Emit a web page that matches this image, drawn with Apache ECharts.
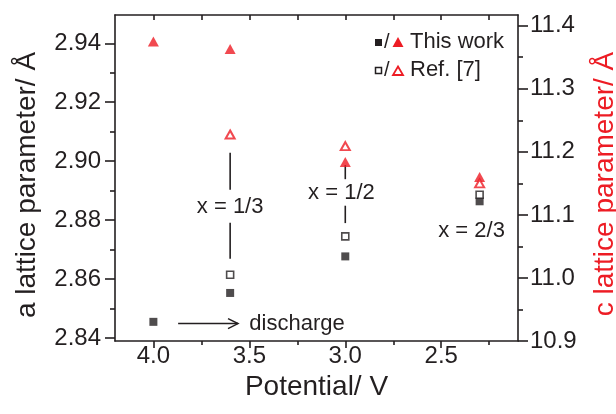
<!DOCTYPE html>
<html>
<head>
<meta charset="utf-8">
<script src="https://cdn.jsdelivr.net/npm/echarts@6/dist/echarts.min.js"></script>
<style>html,body{margin:0;padding:0;background:#fff}#c{width:616px;height:414px}</style>
</head>
<body>
<div id="c"></div>
<script>
// ---- data ----
const potentials = [4.0, 3.6, 3.0, 2.3];
const aThisWork = [2.8455, 2.8553, 2.8677, 2.8864];
const aRef = [null, 2.8615, 2.8745, 2.8886];
const cThisWork = [11.375, 11.363, 11.184, 11.160];
const cRef = [null, 11.2275, 11.209, 11.150];

const xMajorTicks = [2.5, 3.0, 3.5, 4.0];
const xMinorTicks = [2.25, 2.75, 3.25, 3.75];
const aMajorTicks = [2.84, 2.86, 2.88, 2.90, 2.92, 2.94];
const aMinorTicks = [2.85, 2.87, 2.89, 2.91, 2.93];
const cMajorTicks = [10.9, 11.0, 11.1, 11.2, 11.3, 11.4];
const cMinorTicks = [10.95, 11.05, 11.15, 11.25, 11.35];

// annotations (data coordinates)
const noteTexts = ['x = 1/3', 'x = 1/2', 'x = 2/3'];
const noteX = [3.6, 3.02, 2.342];
const noteA = [2.8846, 2.8892, 2.8765];
const segX = [3.6, 3.6, 3.0, 3.0];
const segTop = [2.9029, 2.8791, 2.8987, 2.8849];
const segBottom = [2.8903, 2.8669, 2.8939, 2.8790];
const arrowFromX = 3.871, arrowToX = 3.559, arrowA = 2.8449;
const dischargeX = 3.50;

const BLACK = '#231f20', RED = '#ed1c24';
const FONT = '"Liberation Sans", Arial, sans-serif';

const pairs = (xs, ys) => xs.map((x, i) => [x, ys[i]]).filter(p => p[1] != null);

const chart = echarts.init(document.getElementById('c'), null, {renderer: 'canvas'});

const xBase = {type: 'value', min: 2.1, max: 4.2, inverse: true, splitLine: {show: false}};
const lineStyle = {color: BLACK, width: 1.6};

const option = {
  animation: false,
  backgroundColor: '#fff',
  grid: {left: 115, right: 98, top: 15, bottom: 73, containLabel: false, outerBoundsMode: 'none'},
  xAxis: [
    Object.assign({}, xBase, {
      position: 'bottom', name: 'Potential/ V', nameLocation: 'middle', nameGap: 17,
      nameTextStyle: {fontFamily: FONT, fontSize: 28, color: BLACK},
      axisLine: {lineStyle: lineStyle},
      axisTick: {show: true, length: 7, lineStyle: {color: BLACK, width: 1.6}, customValues: xMajorTicks},
      axisLabel: {show: true, fontFamily: FONT, fontSize: 24, color: BLACK, margin: 3,
        customValues: xMajorTicks, formatter: v => v.toFixed(1)}
    }),
    Object.assign({}, xBase, {
      position: 'bottom', axisLine: {show: false},
      axisTick: {show: true, length: 4, lineStyle: {color: BLACK, width: 1.6}, customValues: xMinorTicks},
      axisLabel: {show: false}
    }),
    Object.assign({}, xBase, {
      position: 'top', axisLine: {lineStyle: lineStyle},
      axisTick: {show: true, inside: true, length: 5, lineStyle: {color: BLACK, width: 1.6},
        customValues: xMajorTicks.concat(xMinorTicks)},
      axisLabel: {show: false}
    })
  ],
  yAxis: [
    {
      type: 'value', position: 'left', min: 2.839, max: 2.9496,
      name: 'a lattice parameter/ Å', nameLocation: 'middle', nameGap: 74,
      nameTextStyle: {fontFamily: FONT, fontSize: 28, color: BLACK, padding: [0, 14, 0, 0]},
      splitLine: {show: false},
      axisLine: {show: true, lineStyle: lineStyle},
      axisTick: {show: true, length: 10, lineStyle: {color: BLACK, width: 1.6}, customValues: aMajorTicks},
      axisLabel: {show: true, fontFamily: FONT, fontSize: 24, color: BLACK, margin: 14,
        customValues: aMajorTicks, formatter: v => v.toFixed(2)}
    },
    {
      type: 'value', position: 'right', min: 10.9, max: 11.417,
      name: 'c lattice parameter/ Å', nameLocation: 'middle', nameGap: 73, nameRotate: 90,
      nameTextStyle: {fontFamily: FONT, fontSize: 28, color: RED, padding: [0, 12, 0, 0]},
      splitLine: {show: false},
      axisLine: {show: true, lineStyle: lineStyle},
      axisTick: {show: true, length: 10, lineStyle: {color: BLACK, width: 1.6}, customValues: cMajorTicks},
      axisLabel: {show: true, fontFamily: FONT, fontSize: 24, color: BLACK, margin: 12,
        customValues: cMajorTicks, formatter: v => v.toFixed(1)}
    },
    {
      type: 'value', position: 'left', min: 2.839, max: 2.9496, splitLine: {show: false},
      axisLine: {show: false},
      axisTick: {show: true, length: 5, lineStyle: {color: BLACK, width: 1.6}, customValues: aMinorTicks},
      axisLabel: {show: false}
    },
    {
      type: 'value', position: 'right', min: 10.9, max: 11.417, splitLine: {show: false},
      axisLine: {show: false},
      axisTick: {show: true, length: 5, lineStyle: {color: BLACK, width: 1.6}, customValues: cMinorTicks},
      axisLabel: {show: false}
    }
  ],
  series: [
    {
      name: 'c this work', type: 'scatter', xAxisIndex: 0, yAxisIndex: 1,
      symbol: 'triangle', symbolSize: [11, 10],
      itemStyle: {color: RED}, data: pairs(potentials, cThisWork), z: 3
    },
    {
      name: 'c ref', type: 'scatter', xAxisIndex: 0, yAxisIndex: 1,
      symbol: 'triangle', symbolSize: [9, 8],
      itemStyle: {color: '#fff', borderColor: RED, borderWidth: 2}, data: pairs(potentials, cRef), z: 4
    },
    {
      name: 'a this work', type: 'scatter', xAxisIndex: 0, yAxisIndex: 0,
      symbol: 'rect', symbolSize: 8,
      itemStyle: {color: BLACK}, data: pairs(potentials, aThisWork), z: 3
    },
    {
      name: 'a ref', type: 'scatter', xAxisIndex: 0, yAxisIndex: 0,
      symbol: 'rect', symbolSize: 7,
      itemStyle: {color: '#fff', borderColor: BLACK, borderWidth: 1.6}, data: pairs(potentials, aRef), z: 4
    },
    {
      name: 'segments', type: 'custom', xAxisIndex: 0, yAxisIndex: 0, silent: true,
      data: segX.map((x, i) => [x, segTop[i], segBottom[i]]),
      renderItem: (params, api) => {
        const p1 = api.coord([api.value(0), api.value(1)]);
        const p2 = api.coord([api.value(0), api.value(2)]);
        return {type: 'line', shape: {x1: p1[0], y1: p1[1], x2: p2[0], y2: p2[1]},
          style: {stroke: BLACK, lineWidth: 1.6}};
      }
    },
    {
      name: 'notes', type: 'custom', xAxisIndex: 0, yAxisIndex: 0, silent: true,
      data: noteX.map((x, i) => [x, noteA[i], i]),
      renderItem: (params, api) => {
        const p = api.coord([api.value(0), api.value(1)]);
        return {type: 'text', x: p[0], y: p[1],
          style: {text: noteTexts[api.value(2)], font: '22px ' + FONT, fill: BLACK, align: 'center', verticalAlign: 'middle'}};
      }
    },
    {
      name: 'arrow', type: 'custom', xAxisIndex: 0, yAxisIndex: 0, silent: true,
      data: [[arrowFromX, arrowA, arrowToX, dischargeX]],
      renderItem: (params, api) => {
        const p1 = api.coord([api.value(0), api.value(1)]);
        const p2 = api.coord([api.value(2), api.value(1)]);
        const pt = api.coord([api.value(3), api.value(1)]);
        return {type: 'group', children: [
          {type: 'line', shape: {x1: p1[0], y1: p1[1], x2: p2[0], y2: p2[1]}, style: {stroke: BLACK, lineWidth: 1.5}},
          {type: 'polyline', shape: {points: [[p2[0] - 10, p2[1] - 5], [p2[0], p2[1]], [p2[0] - 10, p2[1] + 5]]},
            style: {stroke: BLACK, lineWidth: 1.5, fill: null}},
          {type: 'text', x: pt[0], y: pt[1],
            style: {text: 'discharge', font: '22px ' + FONT, fill: BLACK, align: 'left', verticalAlign: 'middle'}}
        ]};
      }
    }
  ],
  graphic: [
    {type: 'rect', shape: {x: 375, y: 39, width: 7, height: 7}, style: {fill: BLACK}},
    {type: 'text', x: 384, y: 42, style: {text: '/', font: '20px ' + FONT, fill: BLACK, verticalAlign: 'middle'}},
    {type: 'polygon', shape: {points: [[398, 37], [403.5, 47], [392.5, 47]]}, style: {fill: RED}},
    {type: 'text', x: 410, y: 42, style: {text: 'This work', font: '22px ' + FONT, fill: BLACK, verticalAlign: 'middle'}},
    {type: 'rect', shape: {x: 375.5, y: 67.5, width: 6, height: 6}, style: {fill: '#fff', stroke: BLACK, lineWidth: 1.5}},
    {type: 'text', x: 384, y: 70, style: {text: '/', font: '20px ' + FONT, fill: BLACK, verticalAlign: 'middle'}},
    {type: 'polygon', shape: {points: [[398, 66.5], [403, 75], [393, 75]]}, style: {fill: '#fff', stroke: RED, lineWidth: 1.8}},
    {type: 'text', x: 410, y: 70, style: {text: 'Ref. [7]', font: '22px ' + FONT, fill: BLACK, verticalAlign: 'middle'}}
  ]
};
chart.setOption(option);
</script>
</body>
</html>
